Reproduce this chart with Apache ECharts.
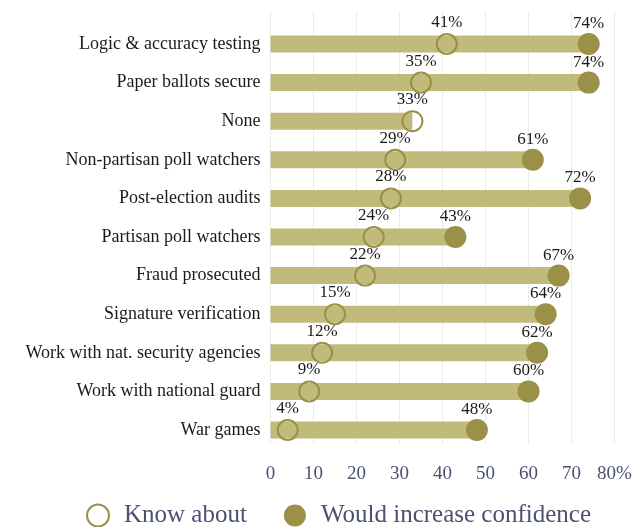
<!DOCTYPE html>
<html>
<head>
<meta charset="utf-8">
<script src="https://cdn.jsdelivr.net/npm/echarts@6/dist/echarts.min.js"></script>
<style>
html,body{margin:0;padding:0;background:#fff;}
#chart{width:644px;height:527px;}
</style>
</head>
<body>
<div id="chart"></div>
<script>
var categories = ["Logic & accuracy testing","Paper ballots secure","None","Non-partisan poll watchers","Post-election audits","Partisan poll watchers","Fraud prosecuted","Signature verification","Work with nat. security agencies","Work with national guard","War games"];
var knowAbout = [41,35,33,29,28,24,22,15,12,9,4];
var increaseConfidence = [74,74,null,61,72,43,67,64,62,60,48];
var xTicks = ["0","10","20","30","40","50","60","70","80%"];

var FONT = "Liberation Serif";
var BAR = "#c0bb7b";
var DARK = "#9a9047";
var AXIS_TXT = "#4b5170";

var barLen = categories.map(function(c,i){
  var a = knowAbout[i], b = increaseConfidence[i];
  return b == null ? a : Math.max(a,b);
});
var knowPts = knowAbout.map(function(v,i){return [v, categories[i]];});
var confPts = [];
increaseConfidence.forEach(function(v,i){ if (v != null) confPts.push([v, categories[i]]); });

var chart = echarts.init(document.getElementById('chart'));
chart.setOption({
  animation:false,
  backgroundColor:'#fff',
  textStyle:{fontFamily:FONT},
  grid:[
    {left:270.5, right:29.5, top:11, bottom:83},
    {left:270.5, right:29.5, top:24.7, bottom:77.7}
  ],
  xAxis:[
    {gridIndex:0, type:'value', min:0, max:80, interval:10,
     axisLine:{show:false}, axisTick:{show:false},
     splitLine:{show:true, lineStyle:{color:'#ebebeb', width:1}},
     axisLabel:{margin:21, color:AXIS_TXT, fontSize:19, fontFamily:FONT,
       formatter:function(v){ return xTicks[Math.round(v/10)]; }}},
    {gridIndex:1, type:'value', min:0, max:80, interval:10, show:false}
  ],
  yAxis:[
    {gridIndex:0, type:'value', show:false},
    {gridIndex:1, type:'category', data:categories, inverse:true,
     axisLine:{show:false}, axisTick:{show:false}, splitLine:{show:false},
     axisLabel:{margin:10, color:'#1a1a1a', fontSize:18, fontFamily:FONT}}
  ],
  legend:{
    left:86, top:503, padding:0, itemWidth:22, itemHeight:22, itemGap:37,
    textStyle:{fontSize:25, color:AXIS_TXT, fontFamily:FONT, padding:[0,0,0,10]},
    data:[
      {name:'Know about', icon:'circle', itemStyle:{color:'rgba(0,0,0,0)', borderColor:DARK, borderWidth:2}},
      {name:'Would increase confidence', icon:'circle', itemStyle:{color:DARK}}
    ]
  },
  series:[
    {type:'bar', xAxisIndex:1, yAxisIndex:1, data:barLen, barWidth:17,
     itemStyle:{color:BAR}, silent:true, z:1},
    {name:'Know about', type:'scatter', xAxisIndex:1, yAxisIndex:1, data:knowPts,
     symbol:'circle', symbolSize:20, z:3,
     itemStyle:{color:'rgba(0,0,0,0)', borderColor:DARK, borderWidth:2, opacity:1},
     label:{show:true, position:'top', distance:2, color:'#1a1a1a', fontSize:17, fontFamily:FONT,
       formatter:function(p){return p.value[0]+'%';}}},
    {name:'Would increase confidence', type:'scatter', xAxisIndex:1, yAxisIndex:1, data:confPts,
     symbol:'circle', symbolSize:22, z:4,
     itemStyle:{color:DARK, opacity:1},
     label:{show:true, position:'top', distance:1, color:'#1a1a1a', fontSize:17, fontFamily:FONT,
       formatter:function(p){return p.value[0]+'%';}}}
  ]
});
</script>
</body>
</html>
